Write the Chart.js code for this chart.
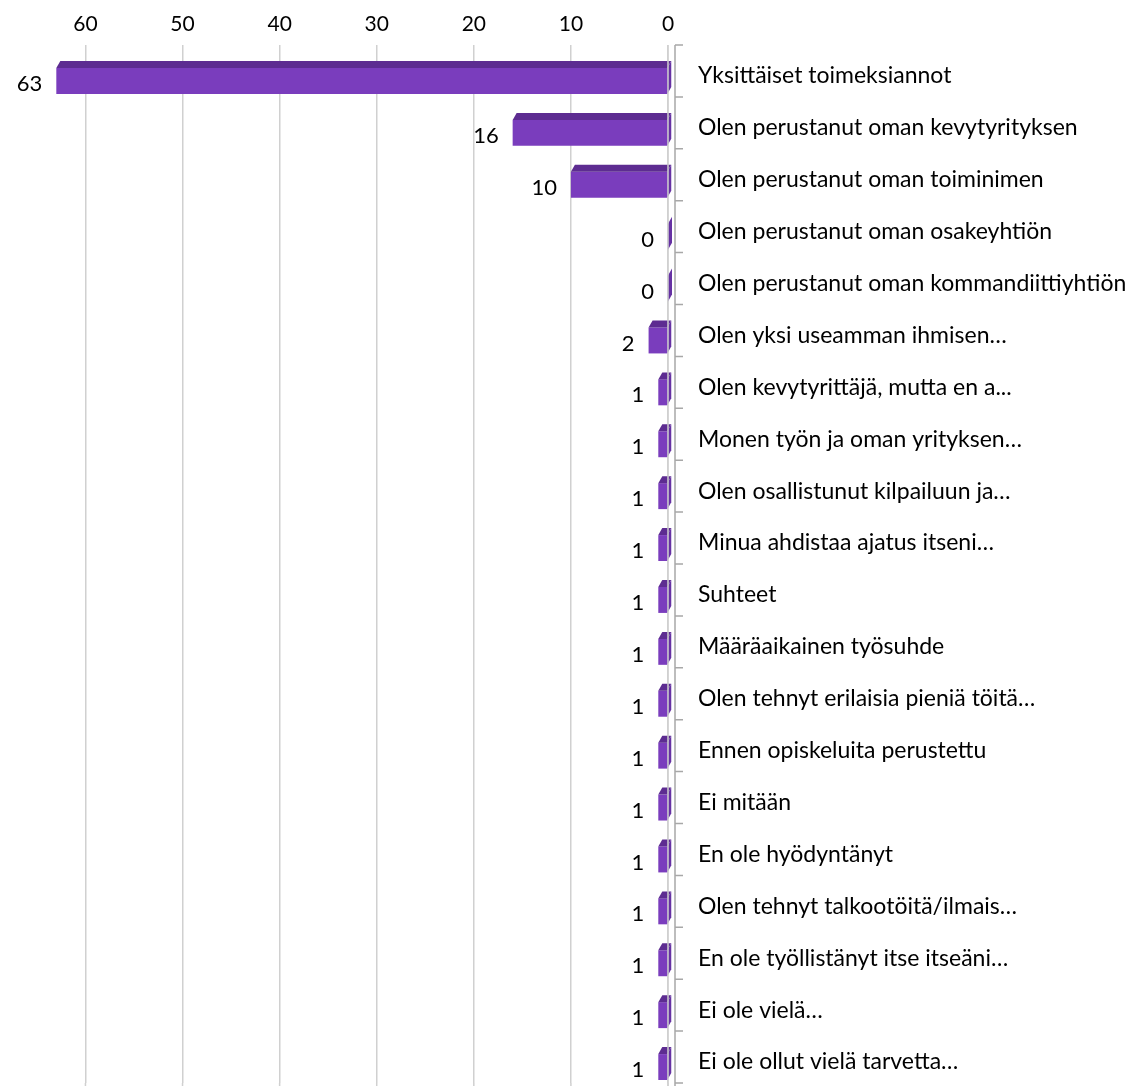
<!DOCTYPE html>
<html>
<head>
<meta charset="utf-8">
<script src="https://cdn.jsdelivr.net/npm/chart.js@4/dist/chart.umd.min.js"></script>
<style>
  html, body { margin: 0; padding: 0; background: #fff; }
  #wrap { width: 1141px; height: 1086px; position: relative; }
</style>
</head>
<body>
<div id="wrap"><canvas id="chart"></canvas></div>
<script>
const categories = [
  'Yksittäiset toimeksiannot',
  'Olen perustanut oman kevytyrityksen',
  'Olen perustanut oman toiminimen',
  'Olen perustanut oman osakeyhtiön',
  'Olen perustanut oman kommandiittiyhtiön',
  'Olen yksi useamman ihmisen…',
  'Olen kevytyrittäjä, mutta en a...',
  'Monen työn ja oman yrityksen…',
  'Olen osallistunut kilpailuun ja…',
  'Minua ahdistaa ajatus itseni…',
  'Suhteet',
  'Määräaikainen työsuhde',
  'Olen tehnyt erilaisia pieniä töitä…',
  'Ennen opiskeluita perustettu',
  'Ei mitään',
  'En ole hyödyntänyt',
  'Olen tehnyt talkootöitä/ilmais…',
  'En ole työllistänyt itse itseäni…',
  'Ei ole vielä…',
  'Ei ole ollut vielä tarvetta…'
];
const counts = [63, 16, 10, 0, 0, 2, 1, 1, 1, 1, 1, 1, 1, 1, 1, 1, 1, 1, 1, 1];
const xTickValues = [0, 10, 20, 30, 40, 50, 60];

const FONT = 'Lato, "Open Sans", sans-serif';
const FRONT = '#7a3dbd';
const TOP = '#5d2c91';
const SIDE = '#6631a3';
const GRID = '#d0d0d0';
const AXIS = '#a8a8a8';

// extruded look: depth offset of the top and side faces, and downward shift of the bars
const DX = 4, DY = -7, SHIFT = 10;

const bar3d = {
  id: 'bar3d',
  beforeDatasetsDraw(chart) {
    chart.ctx.save();
    chart.ctx.translate(0, SHIFT);
  },
  afterDatasetsDraw(chart) {
    const ctx = chart.ctx;
    const meta = chart.getDatasetMeta(0);
    meta.data.forEach((bar, i) => {
      const p = bar.getProps(['x', 'y', 'base', 'height'], true);
      const top = p.y - p.height / 2, bottom = p.y + p.height / 2;
      const left = Math.min(p.x, p.base), right = Math.max(p.x, p.base);

      ctx.fillStyle = TOP;
      ctx.beginPath();
      ctx.moveTo(left, top);
      ctx.lineTo(left + DX, top + DY);
      ctx.lineTo(right + DX, top + DY);
      ctx.lineTo(right, top);
      ctx.closePath();
      ctx.fill();

      ctx.fillStyle = SIDE;
      ctx.beginPath();
      ctx.moveTo(right, top);
      ctx.lineTo(right + DX, top + DY);
      ctx.lineTo(right + DX, bottom + DY);
      ctx.lineTo(right, bottom);
      ctx.closePath();
      ctx.fill();

      ctx.fillStyle = '#000';
      ctx.font = '22px ' + FONT;
      ctx.textAlign = 'right';
      ctx.textBaseline = 'middle';
      ctx.fillText(String(counts[i]), left - 14, p.y + 3);
    });
    ctx.restore();
  },
  afterDraw(chart) {
    const ctx = chart.ctx;
    const { top, right } = chart.chartArea;
    const x0 = chart.scales.x.getPixelForValue(0);
    ctx.save();
    ctx.lineWidth = 1.5;
    ctx.strokeStyle = GRID;
    ctx.beginPath();
    ctx.moveTo(x0, top);
    ctx.lineTo(x0, chart.height);
    ctx.stroke();

    // vertical axis with tick marks between the categories
    const ax = right + 7;
    ctx.strokeStyle = AXIS;
    ctx.beginPath();
    ctx.moveTo(ax, top);
    ctx.lineTo(ax, chart.height);
    for (let i = 0; i <= categories.length; i++) {
      const y = chart.scales.y.getPixelForValue(i - 0.5);
      ctx.moveTo(ax, y);
      ctx.lineTo(ax + 8, y);
    }
    ctx.stroke();
    ctx.restore();
  }
};

// gridlines run on to the bottom edge of the canvas
const extendGrid = {
  id: 'extendGrid',
  beforeDatasetsDraw(chart) {
    const ctx = chart.ctx;
    const { bottom } = chart.chartArea;
    ctx.save();
    ctx.lineWidth = 1.5;
    ctx.strokeStyle = GRID;
    ctx.beginPath();
    xTickValues.forEach(v => {
      const x = chart.scales.x.getPixelForValue(v);
      ctx.moveTo(x, bottom);
      ctx.lineTo(x, chart.height);
    });
    ctx.stroke();
    ctx.restore();
  }
};

new Chart(document.getElementById('chart'), {
  type: 'bar',
  data: {
    labels: categories,
    datasets: [{
      data: counts,
      backgroundColor: FRONT,
      borderWidth: 0,
      categoryPercentage: 1,
      barPercentage: 0.5,
      clip: false
    }]
  },
  options: {
    indexAxis: 'y',
    responsive: true,
    maintainAspectRatio: false,
    animation: false,
    layout: { padding: { left: 0, right: 0, top: 0, bottom: 3 } },
    plugins: {
      legend: { display: false },
      tooltip: { enabled: false }
    },
    scales: {
      x: {
        position: 'top',
        reverse: true,
        min: 0,
        max: 68.8,
        afterFit: s => { s.height = 45; s.paddingLeft = 0; s.paddingRight = 0; },
        afterBuildTicks: s => {
          s.ticks = xTickValues.map(v => ({ value: v }));
        },
        grid: { color: GRID, lineWidth: 1.5, drawTicks: false },
        border: { display: false },
        ticks: {
          padding: 8,
          color: '#000',
          font: { family: FONT, size: 21 }
        }
      },
      y: {
        position: 'right',
        afterFit: s => { s.width = 473; s.paddingTop = 0; s.paddingBottom = 0; },
        grid: { display: false, drawTicks: false },
        border: { display: false },
        ticks: {
          autoSkip: false,
          padding: 30,
          labelOffset: 5,
          color: '#000',
          font: { family: FONT, size: 23 }
        }
      }
    }
  },
  plugins: [extendGrid, bar3d]
});
</script>
</body>
</html>
